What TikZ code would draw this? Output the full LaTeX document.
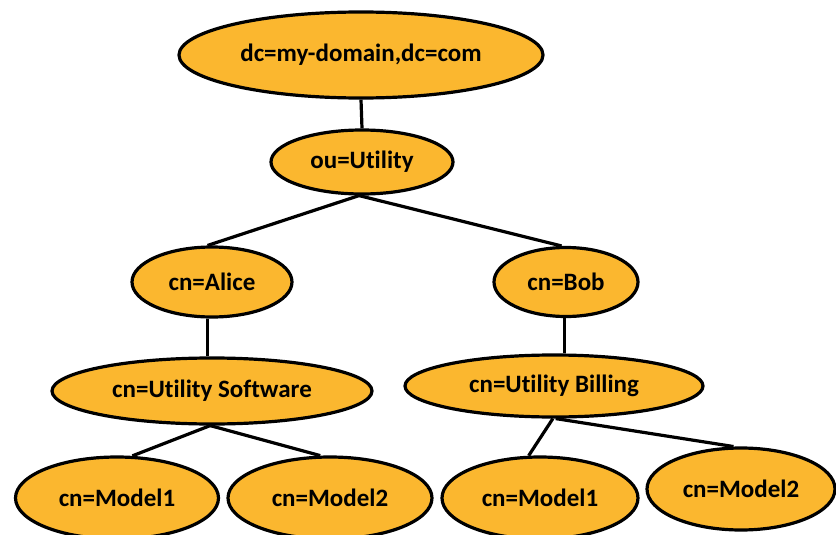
\documentclass[tikz,border=0pt]{standalone}
\usepackage{fontspec}
\setmainfont{Carlito}[Ligatures=NoCommon]
\usetikzlibrary{shapes.geometric}
\definecolor{nodefill}{RGB}{251,183,47}
\tikzset{
  entry/.style={ellipse, draw=black, line width=3.2pt, fill=nodefill, inner sep=0pt,
    font=\fontsize{25}{30}\selectfont\bfseries},
  link/.style={line width=3.2pt, draw=black}
}
\begin{document}
\begin{tikzpicture}[x=1pt, y=-1pt]
\useasboundingbox (0,0) rectangle (836,535);
% directory tree nodes
\node[entry, minimum width=364pt, minimum height=86pt] (root) at (361,55) {dc=my-domain,dc=com};
\node[entry, minimum width=182pt, minimum height=64pt] (ou) at (362,162) {ou=Utility};
\node[entry, minimum width=160pt, minimum height=70pt] (alice) at (212,282) {cn=Alice};
\node[entry, minimum width=144pt, minimum height=69pt] (bob) at (566,282) {cn=Bob};
\node[entry, minimum width=320pt, minimum height=66pt] (soft) at (212,391) {cn=Utility Software};
\node[entry, minimum width=298pt, minimum height=62pt] (bill) at (554,386) {cn=Utility Billing};
\node[entry, minimum width=203pt, minimum height=82pt] (m1a) at (117,498) {cn=Model1};
\node[entry, minimum width=204pt, minimum height=82pt] (m2a) at (330,498) {cn=Model2};
\node[entry, minimum width=196pt, minimum height=82pt] (m1b) at (540,498) {cn=Model1};
\node[entry, minimum width=188pt, minimum height=82pt] (m2b) at (741,489) {cn=Model2};
% connectors
\draw[link] (root.south) -- (ou.north);
\draw[link] (ou.-95) -- (alice.97);
\draw[link] (ou.-95) -- (bob.97);
\draw[link] (alice.-97) -- (alice.-97 |- soft.north);
\draw[link] (bob.-93) -- (bob.-93 |- bill.north);
\draw[link] (soft.-93) -- (m1a.70);
\draw[link] (soft.-93) -- (m2a.103);
\draw[link] (bill.-92) -- (m1b.105);
\draw[link] (bill.-87) -- (m2b.100);
\end{tikzpicture}
\end{document}
